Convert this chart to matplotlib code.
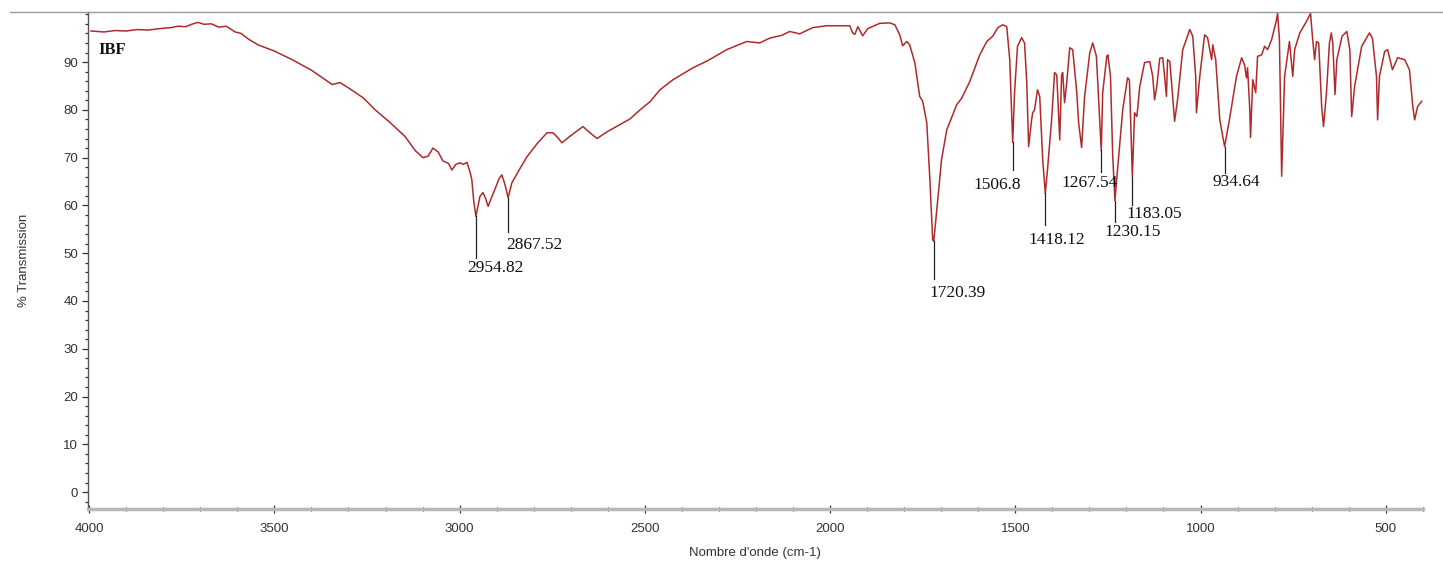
import numpy as np
import matplotlib
matplotlib.use('Agg')
import matplotlib.pyplot as plt
from matplotlib.lines import Line2D
from matplotlib.ticker import MultipleLocator

# IR spectrum (wavenumber cm-1, % transmission)
wavenumber = [3995, 3960, 3930, 3900, 3870, 3840, 3810, 3780, 3760, 3740, 3720, 3706,
              3690, 3670, 3650, 3630, 3606, 3590, 3570, 3544, 3500, 3452, 3400, 3344,
              3323, 3300, 3260, 3228, 3190, 3147, 3120, 3099, 3085, 3072, 3058, 3045,
              3030, 3021, 3010, 2999, 2990, 2980, 2972, 2967, 2962, 2956, 2950, 2945,
              2937, 2930, 2923, 2912, 2905, 2894, 2886, 2878, 2869, 2863, 2859, 2851,
              2835, 2818, 2790, 2764, 2748, 2735, 2724, 2700, 2667, 2645, 2629, 2602,
              2570, 2540, 2513, 2486, 2459, 2424, 2400, 2370, 2330, 2279, 2250, 2225,
              2190, 2163, 2130, 2109, 2082, 2047, 2009, 1947, 1939, 1933, 1925, 1912,
              1898, 1866, 1839, 1825, 1812, 1804, 1793, 1785, 1771, 1758, 1750, 1739,
              1731, 1723, 1720, 1712, 1699, 1685, 1658, 1645, 1623, 1596, 1577, 1561,
              1547, 1534, 1523, 1515, 1507, 1502, 1494, 1483, 1475, 1469, 1464, 1456,
              1453, 1448, 1440, 1434, 1426, 1419, 1413, 1402, 1394, 1388, 1380, 1375,
              1372, 1367, 1362, 1353, 1345, 1334, 1329, 1321, 1313, 1299, 1291, 1281,
              1268, 1264, 1253, 1250, 1243, 1237, 1231, 1224, 1210, 1197, 1192, 1184,
              1178, 1172, 1170, 1164, 1151, 1137, 1129, 1124, 1118, 1110, 1102, 1097,
              1092, 1089, 1083, 1078, 1070, 1062, 1048, 1029, 1021, 1013, 1011, 1002,
              989, 981, 970, 967, 959, 948, 935, 922, 903, 889, 881, 876,
              873, 867, 865, 859, 851, 846, 835, 827, 819, 808, 795, 792,
              787, 781, 773, 760, 751, 746, 732, 714, 703, 698, 692, 687,
              681, 673, 668, 660, 652, 647, 643, 637, 632, 618, 605, 597,
              592, 584, 565, 544, 536, 525, 522, 517, 503, 495, 482, 468,
              449, 436, 427, 422, 414, 403]
transmission = [96.5, 96.3, 96.6, 96.5, 96.8, 96.7, 97.0, 97.2, 97.5, 97.4, 98.0, 98.3,
                97.9, 98.0, 97.3, 97.5, 96.3, 96.0, 94.8, 93.6, 92.3, 90.5, 88.3, 85.3,
                85.7, 84.6, 82.5, 80.0, 77.5, 74.4, 71.5, 70.0, 70.3, 72.0, 71.2, 69.3,
                68.8, 67.4, 68.6, 68.9, 68.6, 69.0, 67.0, 65.4, 61.0, 57.7, 60.0, 61.9,
                62.7, 61.5, 59.8, 62.0, 63.3, 65.5, 66.4, 64.5, 61.6, 63.5, 64.7, 65.8,
                68.0, 70.2, 73.0, 75.2, 75.2, 74.2, 73.1, 74.6, 76.5, 75.0, 74.0, 75.4,
                76.8, 78.1, 80.0, 81.7, 84.2, 86.3, 87.4, 88.8, 90.3, 92.6, 93.5, 94.3,
                94.0, 95.0, 95.6, 96.4, 95.9, 97.2, 97.6, 97.6, 96.1, 95.8, 97.4, 95.5,
                97.0, 98.1, 98.2, 97.8, 95.7, 93.4, 94.3, 93.6, 89.8, 82.8, 81.8, 77.3,
                66.1, 52.8, 52.5, 59.1, 69.6, 75.8, 81.1, 82.4, 85.9, 91.5, 94.3, 95.4,
                97.2, 97.8, 97.4, 90.5, 73.2, 83.6, 93.3, 95.1, 94.0, 85.7, 72.3, 77.9,
                79.4, 80.0, 84.2, 82.8, 69.6, 62.5, 67.5, 77.9, 87.8, 87.3, 73.7, 87.3,
                87.8, 81.5, 85.0, 93.0, 92.6, 83.6, 77.3, 72.1, 82.7, 91.9, 94.0, 91.2,
                71.5, 83.6, 91.2, 91.5, 87.0, 70.3, 61.0, 67.5, 80.0, 86.7, 86.3, 66.0,
                79.4, 78.6, 80.0, 84.9, 89.9, 90.1, 87.0, 82.1, 84.9, 90.8, 90.9, 87.0,
                82.8, 90.5, 90.1, 85.6, 77.6, 82.1, 92.6, 96.8, 95.4, 87.0, 79.4, 87.0,
                95.7, 95.1, 90.5, 93.6, 90.5, 77.9, 72.3, 77.9, 87.0, 90.9, 89.4, 86.7,
                88.8, 80.0, 74.2, 86.3, 83.6, 91.2, 91.5, 93.3, 92.6, 94.7, 98.8, 100.3,
                94.7, 66.1, 87.0, 94.3, 87.0, 92.6, 96.1, 98.5, 100.2, 95.4, 90.5, 94.3,
                94.0, 80.7, 76.5, 83.6, 94.0, 96.1, 94.0, 83.2, 90.5, 95.4, 96.4, 92.6,
                78.6, 84.9, 93.3, 96.1, 95.0, 87.0, 77.9, 87.0, 92.2, 92.6, 88.4, 90.9,
                90.5, 88.4, 80.7, 77.9, 80.7, 81.8]

# peak labels: peak position, end of leader line, text position
peak_labels = ['2954.82', '2867.52', '1720.39', '1506.8', '1418.12',
               '1267.54', '1230.15', '1183.05', '934.64']
peak_wn = [2956, 2869, 1720, 1507, 1419, 1268, 1231, 1184, 935]
line_end = [49.0, 54.5, 44.5, 67.5, 55.8, 67.0, 56.6, 60.1, 66.8]
text_wn = [2902, 2797, 1655, 1550, 1388, 1299, 1183, 1124, 903]
text_t = [47.0, 51.8, 41.7, 64.3, 52.8, 64.7, 54.5, 58.3, 65.0]

fig = plt.figure(figsize=(14.43, 5.66), dpi=100)
ax = fig.add_axes([0.061, 0.101, 0.925, 0.878])

ax.plot(wavenumber, transmission, color='#b02a2c', lw=1.1)

wn_sorted = np.array(wavenumber[::-1])
t_sorted = np.array(transmission[::-1])
for lab, pw, le, tw, tt in zip(peak_labels, peak_wn, line_end, text_wn, text_t):
    pt = np.interp(pw, wn_sorted, t_sorted)
    ax.plot([pw, pw], [pt, le], color='#222222', lw=0.9)
    ax.text(tw, tt, lab, ha='center', va='center', fontsize=12.5,
            family='Liberation Serif', color='#111111')

ax.text(3975, 92.5, 'IBF', fontsize=12, fontweight='bold',
        family='Liberation Serif', color='#111111', va='center')

ax.set_xlim(4003, 400)
ax.set_ylim(-3.5, 100.5)
ax.xaxis.set_major_locator(MultipleLocator(500))
ax.xaxis.set_minor_locator(MultipleLocator(100))
ax.set_yticks(range(0, 100, 10))
ax.yaxis.set_minor_locator(MultipleLocator(2))

for s in ['top', 'right']:
    ax.spines[s].set_visible(False)
ax.spines['left'].set_color('#555555')
ax.spines['left'].set_linewidth(1.0)
ax.spines['bottom'].set_color('#b8b8b8')
ax.spines['bottom'].set_linewidth(2.5)

ax.tick_params(axis='both', which='major', labelsize=9.5, labelcolor='#333333',
               color='#333333', width=0.9)
ax.tick_params(axis='y', which='major', length=4, direction='out', pad=3)
ax.tick_params(axis='y', which='minor', length=2, width=0.9, color='#333333')
ax.tick_params(axis='x', which='major', length=6, direction='inout', pad=7)
ax.tick_params(axis='x', which='minor', length=3, direction='inout', width=0.9,
               color='#333333')
for lab in ax.get_xticklabels() + ax.get_yticklabels():
    lab.set_family('Liberation Sans')

ax.set_ylabel('% Transmission', fontsize=9.5, family='Liberation Sans',
              color='#333333', labelpad=24)
ax.set_xlabel("Nombre d'onde (cm-1)", fontsize=9.5, family='Liberation Sans',
              color='#333333', labelpad=9)

# frame line across the top
fig.add_artist(Line2D([10 / 1443, 1.0], [1 - 12 / 566, 1 - 12 / 566],
                      color='#9a9a9a', lw=1.0))

fig.savefig('out.png', dpi=100)
